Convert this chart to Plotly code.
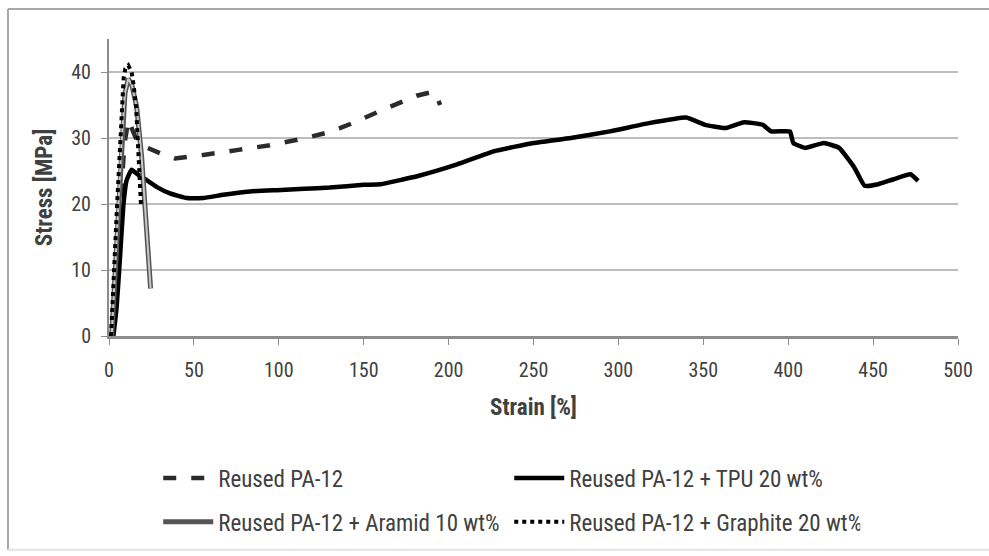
import plotly.graph_objects as go

# Tensile curves: strain [%] vs stress [MPa]
pa12_strain = [2, 3.5, 5, 7, 9, 11.4, 13.5, 16.3, 20, 23.2, 30, 38.9, 50, 57.5, 76.2, 94.8,
               113.4, 128.2, 136, 143.9, 159.6, 177.3, 181.2, 190.9, 193, 195]
pa12_stress = [0, 6, 14, 22, 29, 32.7, 31.5, 29.7, 28.8, 28.4, 27.7, 26.9, 27.2, 27.5, 28.2, 28.9,
               29.85, 30.8, 31.5, 32.3, 34.1, 35.9, 36.4, 37.0, 36.3, 35.0]

tpu_strain = [2.6, 4.5, 6.5, 8.4, 10.4, 13.3, 16.3, 22.2, 28, 35.9, 45.7, 55.5, 67.3, 83, 98.7,
              115, 130, 150, 160, 182, 205, 227, 250, 272, 295, 318, 340, 351, 363, 374, 385,
              390, 401, 403, 410, 421, 430, 439, 445, 453, 462, 472, 476.5]
tpu_stress = [0, 4.4, 12, 19.6, 23.6, 25.2, 24.6, 23.6, 22.6, 21.6, 20.9, 20.9, 21.4, 21.9, 22.1,
              22.3, 22.5, 22.9, 23.0, 24.25, 26, 28, 29.25, 30, 31, 32.25, 33.1, 32, 31.5, 32.4, 32,
              31, 31, 29.25, 28.5, 29.25, 28.5, 25.5, 22.75, 23, 23.75, 24.5, 23.5]

aramid_strain = [1.6, 3.5, 5.5, 7.5, 9.4, 11.4, 13.5, 16.3, 19.2, 21.2, 22.6, 23.8, 24.5]
aramid_stress = [0, 9.5, 19.6, 29.7, 36.8, 39.0, 38.0, 34.7, 27.2, 19.6, 14.5, 9.5, 7.2]

graphite_strain = [1.2, 2.0, 2.8, 3.8, 4.8, 5.8, 6.8, 7.8, 8.6, 9.6, 11.4, 13.3, 14.5, 16.0,
                   17.0, 18.0, 18.6, 18.9]
graphite_stress = [0, 5, 10, 15, 20, 25, 30, 35, 39, 40.5, 41, 40, 38, 34.5, 30, 26, 22, 19.5]

labels = ["Reused PA-12", "Reused PA-12 + TPU 20 wt%",
          "Reused PA-12 + Aramid 10 wt%", "Reused PA-12 + Graphite 20 wt%"]

FONT = "'Liberation Sans Narrow', 'Roboto Condensed', Lato, sans-serif"
TXT = "#404040"

fig = go.Figure()
fig.add_trace(go.Scatter(x=pa12_strain, y=pa12_stress, mode="lines", name=labels[0],
                         line=dict(color="#2b2b2b", width=4.5, dash="13px,15px"),
                         legend="legend"))
fig.add_trace(go.Scatter(x=tpu_strain, y=tpu_stress, mode="lines", name=labels[1],
                         line=dict(color="#000000", width=4.5, shape="spline", smoothing=0.35),
                         legend="legend"))
fig.add_trace(go.Scatter(x=aramid_strain, y=aramid_stress, mode="lines", name=labels[2],
                         line=dict(color="#555555", width=5), legend="legend2"))
fig.add_trace(go.Scatter(x=aramid_strain, y=aramid_stress, mode="lines", showlegend=False,
                         line=dict(color="#c8c8c8", width=2), hoverinfo="skip"))
fig.add_trace(go.Scatter(x=graphite_strain, y=graphite_stress, mode="lines", name=labels[3],
                         line=dict(color="#000000", width=4, dash="4px,4px"),
                         legend="legend2"))

# outer frame around the figure
fig.add_shape(type="line", xref="paper", yref="paper", x0=-0.119, x1=1.05, y0=1.101, y1=1.101,
              line=dict(color="#a8a8a8", width=2))
fig.add_shape(type="line", xref="paper", yref="paper", x0=-0.119, x1=-0.119, y0=-0.72, y1=1.101,
              line=dict(color="#a8a8a8", width=2))
fig.add_shape(type="line", xref="paper", yref="paper", x0=-0.119, x1=1.05, y0=-0.72, y1=-0.72,
              line=dict(color="#e2e2e2", width=2))

legend_common = dict(orientation="h", xanchor="left", yanchor="middle",
                     font=dict(family=FONT, size=23, color=TXT),
                     entrywidth=286, entrywidthmode="pixels", itemwidth=50,
                     bgcolor="rgba(0,0,0,0)", borderwidth=0)

fig.update_layout(
    width=989, height=556,
    margin=dict(l=109, r=31, t=39, b=220),
    plot_bgcolor="white", paper_bgcolor="white",
    font=dict(family=FONT, size=20, color=TXT),
    legend=dict(x=0.058, y=-0.478, **legend_common),
    legend2=dict(x=0.058, y=-0.626, **legend_common),
    xaxis=dict(range=[0, 500], tick0=0, dtick=50, showgrid=False, zeroline=False,
               showline=True, linecolor="#8c8c8c", linewidth=2.5,
               ticks="outside", ticklen=6, tickcolor="#8c8c8c", tickwidth=1,
               ticklabelstandoff=8,
               tickfont=dict(family=FONT, size=20, color=TXT),
               title=dict(text="<b>Strain [%]</b>", font=dict(family=FONT, size=23, color=TXT),
                          standoff=19)),
    yaxis=dict(range=[0, 45], tick0=0, dtick=10, showgrid=True, gridcolor="#bdbdbd",
               gridwidth=2, zeroline=False, showline=True, linecolor="#8c8c8c", linewidth=2,
               ticks="outside", ticklen=6, tickcolor="#8c8c8c", tickwidth=1,
               ticklabelstandoff=6,
               tickfont=dict(family=FONT, size=20, color=TXT),
               title=dict(text="<b>Stress [MPa]</b>", font=dict(family=FONT, size=23, color=TXT),
                          standoff=12)),
)

fig.write_html("out.html")
